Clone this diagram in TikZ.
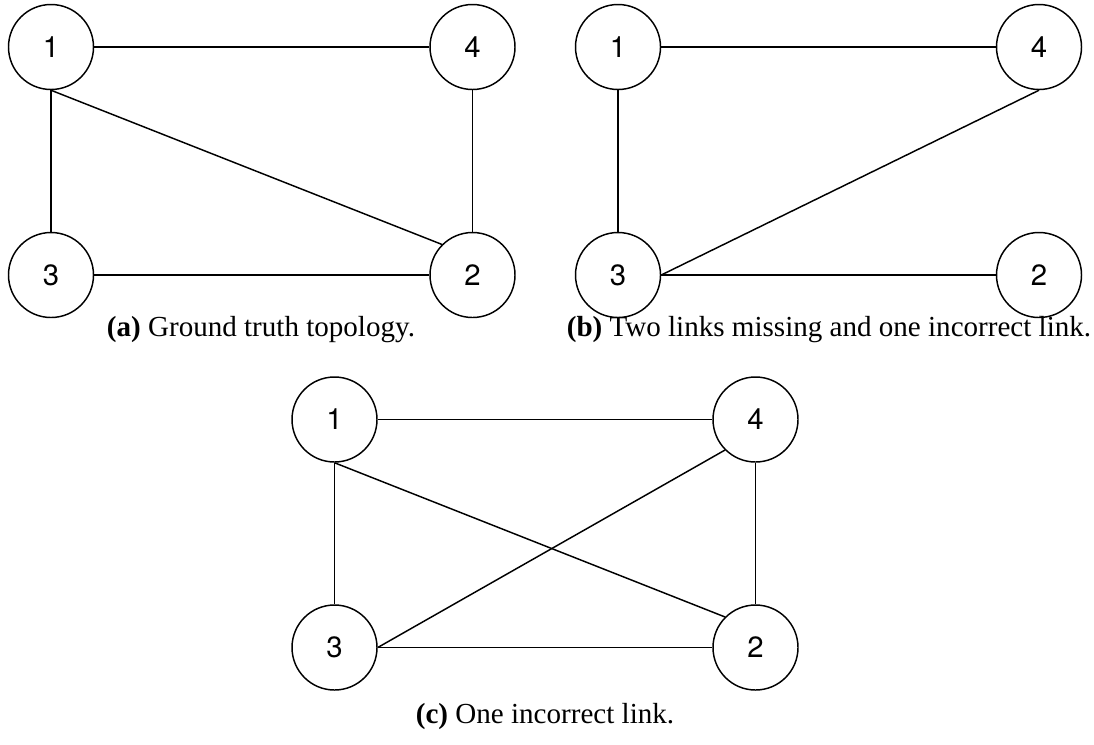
\documentclass[tikz,border=0pt]{standalone}
\usepackage{fontspec}
\setmainfont{Liberation Serif}
\newfontfamily\nodefont{TeX Gyre Heros}
\begin{document}
\begin{tikzpicture}[x=0.75pt,y=-0.75pt,
  vertex/.style={circle,draw,line width=1.1pt,minimum size=63.75pt,inner sep=0pt,
    font=\nodefont\fontsize{22}{26}\selectfont},
  link/.style={line width=1.1pt},
  caption/.style={font=\fontsize{21.8}{26}\selectfont,inner sep=0pt}]
\useasboundingbox (0,0) rectangle (1094,744);

% (a) ground truth
\node[vertex] (a1) at (51,47) {1};
\node[vertex] (a4) at (472.5,47) {4};
\node[vertex] (a3) at (51,275) {3};
\node[vertex] (a2) at (472.5,275) {2};
\draw[link] (a1) -- (a4);
\draw[link] (a1) -- (a3);
\draw[link] (a3) -- (a2);
\draw[link] (a4) -- (a2);
\draw[link] (a1.south) -- (a2.north west);
\node[caption] (capa) at (261,330) {\textbf{(a)} Ground truth topology.};

% (b) two links missing, one incorrect
\node[vertex] (b1) at (618,47) {1};
\node[vertex] (b4) at (1039,47) {4};
\node[vertex] (b3) at (618,275) {3};
\node[vertex] (b2) at (1039,275) {2};
\draw[link] (b1) -- (b4);
\draw[link] (b1) -- (b3);
\draw[link] (b3) -- (b2);
\draw[link] (b3.east) -- (b4.south);
\node[caption] (capb) at (829,330) {\textbf{(b)} Two links missing and one incorrect link.};

% (c) one incorrect link
\node[vertex] (c1) at (334.5,419.5) {1};
\node[vertex] (c4) at (755.5,419.5) {4};
\node[vertex] (c3) at (334.5,647.5) {3};
\node[vertex] (c2) at (755.5,647.5) {2};
\draw[link] (c1) -- (c4);
\draw[link] (c1) -- (c3);
\draw[link] (c3) -- (c2);
\draw[link] (c4) -- (c2);
\draw[link] (c1.south) -- (c2.north west);
\draw[link] (c3.east) -- (c4.south west);
\node[caption] (capc) at (545,716) {\textbf{(c)} One incorrect link.};
\end{tikzpicture}
\end{document}
